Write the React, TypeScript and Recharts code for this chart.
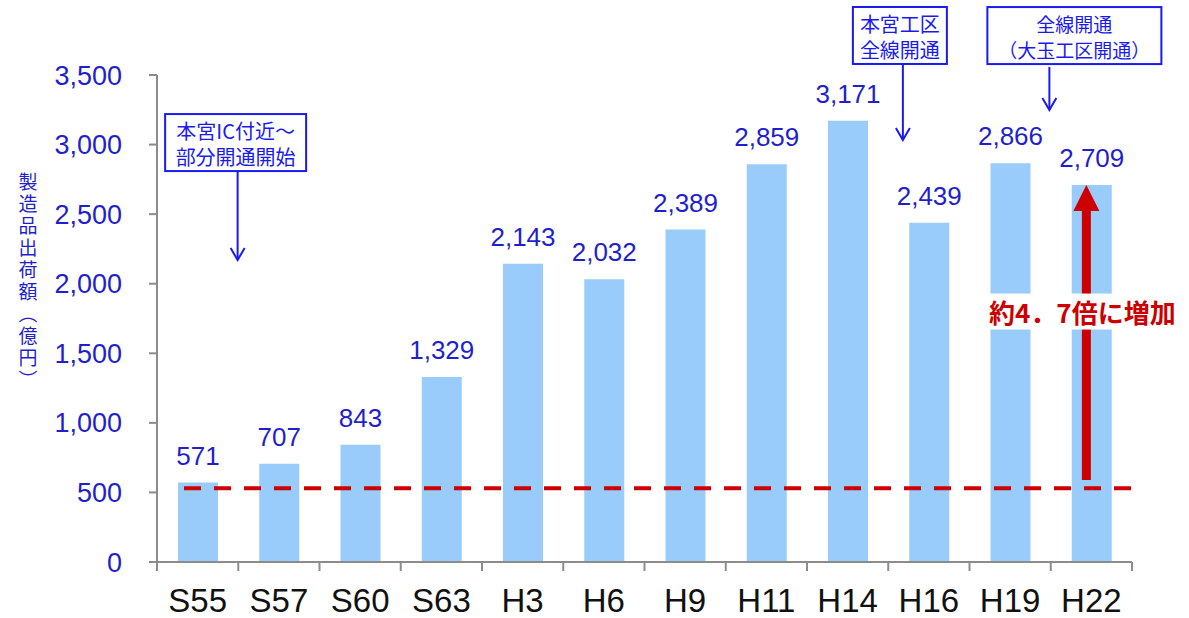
import React from 'react';
import { BarChart, Bar, XAxis, YAxis, LabelList, ReferenceLine, ReferenceDot } from 'recharts';

const categories = ['S55', 'S57', 'S60', 'S63', 'H3', 'H6', 'H9', 'H11', 'H14', 'H16', 'H19', 'H22'];
const shipments = [571, 707, 843, 1329, 2143, 2032, 2389, 2859, 3171, 2439, 2866, 2709];
const yTicks = [0, 500, 1000, 1500, 2000, 2500, 3000, 3500];

// reference level (dashed) and growth arrow
const baseLevel = 530;
const arrowFrom = 590;
const arrowTo = 2709;
const growthText = '約4．7倍に増加';
const growthLevel = 1800;

// callouts: anchored at the arrow tip (category + value)
const notes = [
  { x: 'S55', y: 2170, lines: ['本宮IC付近～', '部分開通開始'] },
  { x: 'H16', y: 3033, lines: ['本宮工区', '全線開通'] },
  { x: 'H22', y: 3248, lines: ['全線開通', '（大玉工区開通）'] },
];
// pixel layout of each callout box (dx from category centre, arrow length, box offset/size)
const noteLayout = [
  { dx: 40, len: 89, boxOff: -2, w: 141, h: 57, fs: 20 },
  { dx: -26, len: 76, boxOff: -3, w: 94, h: 57, fs: 20 },
  { dx: -42, len: 43, boxOff: 25, w: 174, h: 57, fs: 19 },
];

const data = categories.map((c, i) => ({ year: c, amount: shipments[i] }));

const BLUE = '#1f1fCC';
const NOTE_BLUE = '#1a1aF0';
const RED = '#CC0000';
const AXIS = '#8c8c8c';
const CJK = '"Noto Sans CJK JP", sans-serif';

const XTick = (props: any) => {
  const { x, y, payload, index } = props;
  const half = payload && payload.offset ? payload.offset : 40.6;
  return (
    <g>
      <line x1={x - half} y1={y} x2={x - half} y2={y + 9} stroke={AXIS} strokeWidth={2} />
      {index === categories.length - 1 && (
        <line x1={x + half} y1={y} x2={x + half} y2={y + 9} stroke={AXIS} strokeWidth={2} />
      )}
      <text x={x} y={y + 50} textAnchor="middle" fontSize={33} fill="#111">
        {payload.value}
      </text>
    </g>
  );
};

const makeNote = (i: number) => (props: any) => {
  const { cx, cy } = props;
  const L = noteLayout[i];
  const ax = cx + L.dx;
  const boxBottom = cy - L.len - (i === 2 ? 3 : 0);
  const top = boxBottom - L.h;
  const bx = ax + L.boxOff;
  return (
    <g>
      <rect x={bx - L.w / 2} y={top} width={L.w} height={L.h} fill="#fff" stroke={NOTE_BLUE} strokeWidth={2} />
      {notes[i].lines.map((t, k) => (
        <text key={k} x={bx} y={top + 25 + k * 26} textAnchor="middle" fontSize={L.fs} fill={NOTE_BLUE} fontFamily={CJK}>
          {t}
        </text>
      ))}
      <line x1={ax} y1={cy - L.len} x2={ax} y2={cy} stroke={NOTE_BLUE} strokeWidth={2} />
      <polyline points={`${ax - 7},${cy - 12} ${ax},${cy} ${ax + 7},${cy - 12}`} fill="none" stroke={NOTE_BLUE} strokeWidth={2} />
    </g>
  );
};

const DashedBase = (props: any) => {
  const { x1, y1, x2 } = props;
  return <line x1={x1 + 27} y1={y1} x2={x2} y2={y1} stroke={RED} strokeWidth={4} strokeDasharray="17 13" />;
};

const GrowthArrow = (props: any) => {
  const { x1, y1, y2 } = props;
  const x = x1 - 5;
  const ty = y1 + ((y2 - y1) * (growthLevel - arrowFrom)) / (arrowTo - arrowFrom);
  return (
    <g>
      <line x1={x} y1={y1} x2={x} y2={y2 + 24} stroke={RED} strokeWidth={9} />
      <polygon points={`${x},${y2} ${x - 13},${y2 + 26} ${x + 13},${y2 + 26}`} fill={RED} />
      <rect x={x - 111} y={ty - 18} width={214} height={36} fill="#fff" />
      <text x={x - 4} y={ty} textAnchor="middle" dominantBaseline="central" fontSize={26} fontWeight="bold" fill={RED} fontFamily={CJK}>
        {growthText}
      </text>
    </g>
  );
};

const YTitle = () => (
  <text x={28} y={172} fontSize={19} fill={BLUE} fontFamily={CJK} style={{ writingMode: 'vertical-rl', letterSpacing: 3 }}>
    製造品出荷額（億円）
  </text>
);

export default function App() {
  return (
    <div style={{ position: 'absolute', left: 0, top: 0, width: 1189, height: 618, background: '#fff', fontFamily: '"Liberation Sans", Arial, sans-serif' }}>
      <BarChart width={1189} height={618} data={data} margin={{ top: 75, right: 57, bottom: 0, left: 0 }}>
        <XAxis
          dataKey="year"
          height={56}
          axisLine={{ stroke: AXIS, strokeWidth: 2 }}
          tickLine={false}
          tickSize={0}
          tickMargin={0}
          tick={<XTick />}
          interval={0}
        />
        <YAxis
          width={157}
          domain={[0, 3500]}
          ticks={yTicks}
          interval={0}
          axisLine={{ stroke: AXIS, strokeWidth: 2 }}
          tickLine={{ stroke: AXIS, strokeWidth: 2 }}
          tickSize={8}
          tickMargin={27}
          tick={{ fill: BLUE, fontSize: 27 }}
          tickFormatter={(v: number) => v.toLocaleString('en-US')}
          label={{ content: () => <YTitle /> }}
        />
        <Bar dataKey="amount" fill="#99CCFA" barSize={40} isAnimationActive={false}>
          <LabelList
            dataKey="amount"
            position="top"
            offset={18}
            fill={BLUE}
            fontSize={26}
            formatter={(v: any) => Number(v).toLocaleString('en-US')}
          />
        </Bar>
        <ReferenceLine y={baseLevel} shape={DashedBase} />
        <ReferenceLine
          segment={[
            { x: 'H22', y: arrowFrom },
            { x: 'H22', y: arrowTo },
          ]}
          shape={GrowthArrow}
        />
        {notes.map((n, i) => (
          <ReferenceDot key={i} x={n.x} y={n.y} ifOverflow="visible" shape={makeNote(i)} />
        ))}
      </BarChart>
    </div>
  );
}
